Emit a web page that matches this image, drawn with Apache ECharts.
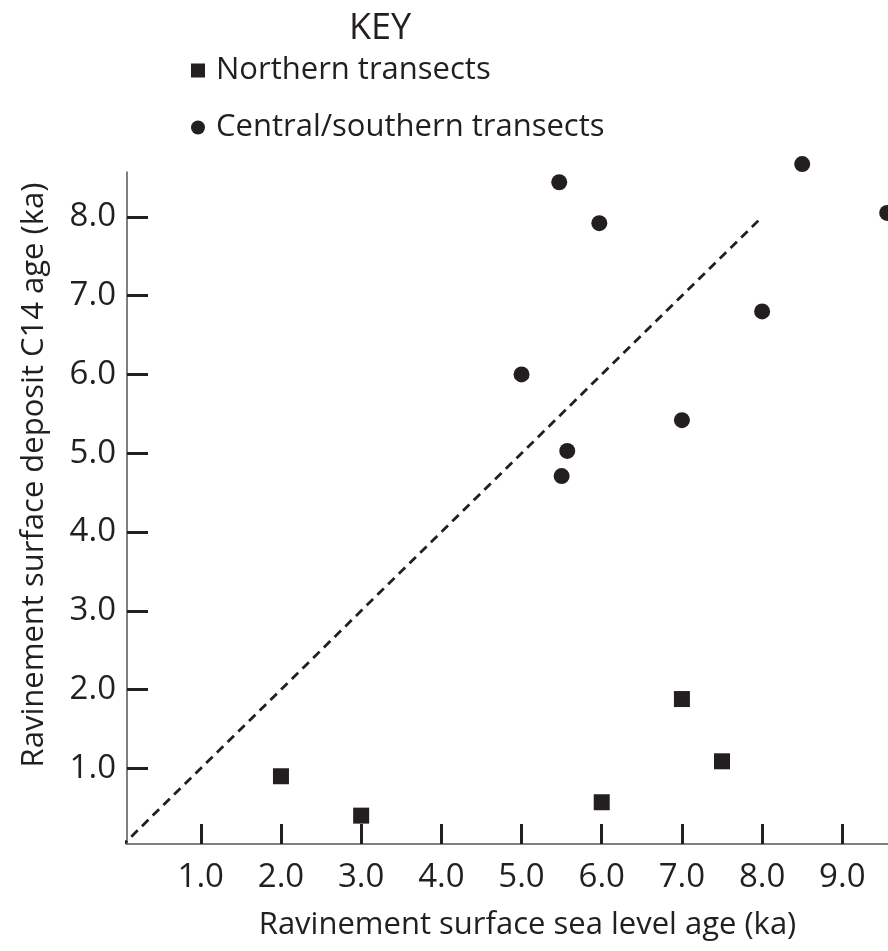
<!DOCTYPE html>
<html><head><meta charset="utf-8">
<script src="https://cdn.jsdelivr.net/npm/echarts@6/dist/echarts.min.js"></script>
<style>html,body{margin:0;padding:0;background:#fff}#c{width:888px;height:951px}</style>
</head><body><div id="c"></div>
<script>
const northernX = [2.0, 3.0, 6.0, 7.0, 7.5];
const northernY = [0.9, 0.4, 0.57, 1.88, 1.09];
const centralX = [5.0, 5.47, 5.97, 5.5, 5.57, 7.0, 8.0, 8.5, 9.56];
const centralY = [6.0, 8.44, 7.92, 4.71, 5.03, 5.42, 6.8, 8.67, 8.05];
const refLineX = [0, 8];
const refLineY = [0, 8];
const xTicks = [1, 2, 3, 4, 5, 6, 7, 8, 9];
const yTicks = [1, 2, 3, 4, 5, 6, 7, 8];

const ink = '#231f20';
const font = 'Open Sans';
const chart = echarts.init(document.getElementById('c'));
chart.setOption({
  animation: false,
  backgroundColor: '#fff',
  title: {
    text: 'KEY', left: 375, top: 6, textAlign: 'center',
    textStyle: { fontFamily: font, fontSize: 36, fontWeight: 'normal', color: ink }
  },
  legend: {
    orient: 'vertical', left: 186, top: 50, itemGap: 26,
    itemWidth: 14, itemHeight: 14,
    textStyle: { fontFamily: font, fontSize: 31, color: ink, padding: [0, 0, 0, 6] },
    data: [
      { name: 'Northern transects', icon: 'rect', itemStyle: { color: ink, opacity: 1 } },
      { name: 'Central/southern transects', icon: 'circle', itemStyle: { color: ink, opacity: 1 } }
    ]
  },
  grid: { left: 127, right: 0, top: 172, bottom: 107 },
  xAxis: {
    type: 'value', min: 0.08, max: 9.57,
    name: 'Ravinement surface sea level age (ka)', nameLocation: 'middle', nameGap: 66,
    nameTextStyle: { fontFamily: font, fontSize: 31, color: ink, padding: [0, 0, 0, 40] },
    axisLine: { onZero: false, lineStyle: { color: '#555', width: 1.5 } },
    axisTick: { show: true, inside: true, length: 20, customValues: xTicks, lineStyle: { color: ink, width: 3 } },
    axisLabel: { customValues: xTicks, margin: 17, fontFamily: font, fontSize: 33, color: ink,
      formatter: v => v.toFixed(1) },
    splitLine: { show: false }
  },
  yAxis: {
    type: 'value', min: 0.04, max: 8.57,
    name: 'Ravinement surface deposit C14 age (ka)', nameLocation: 'middle', nameGap: 77,
    nameTextStyle: { fontFamily: font, fontSize: 31, color: ink, padding: [0, 0, 0, 66] },
    axisLine: { show: true, onZero: false, lineStyle: { color: '#555', width: 1.5 } },
    axisTick: { show: true, inside: true, length: 21, customValues: yTicks, lineStyle: { color: ink, width: 3 } },
    axisLabel: { customValues: yTicks, margin: 11, fontFamily: font, fontSize: 33, color: ink,
      formatter: v => v.toFixed(1) },
    splitLine: { show: false }
  },
  series: [
    {
      type: 'line', name: 'ref', data: refLineX.map((x, i) => [x, refLineY[i]]),
      symbol: 'none', silent: true, clip: true,
      lineStyle: { color: ink, width: 2.8, type: [9, 6] }
    },
    {
      type: 'scatter', name: 'Northern transects', symbol: 'rect', symbolSize: 16,
      data: northernX.map((x, i) => [x, northernY[i]]), itemStyle: { color: ink, opacity: 1 }, clip: false
    },
    {
      type: 'scatter', name: 'Central/southern transects', symbol: 'circle', symbolSize: 16,
      data: centralX.map((x, i) => [x, centralY[i]]), itemStyle: { color: ink, opacity: 1 }, clip: false
    }
  ]
});
</script></body></html>
